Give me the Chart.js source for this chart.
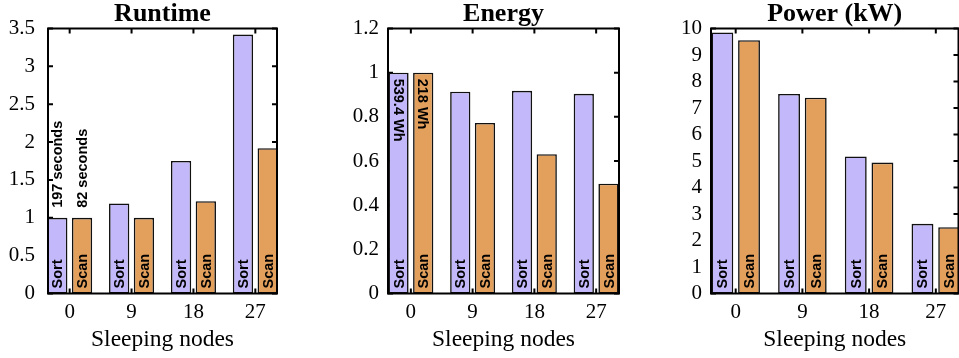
<!DOCTYPE html>
<html>
<head>
<meta charset="utf-8">
<script src="https://cdn.jsdelivr.net/npm/chart.js@4.4.1/dist/chart.umd.min.js"></script>
<style>
html, body { margin: 0; padding: 0; background: #fff; overflow: hidden; width: 959px; height: 358px; }
canvas { position: absolute; top: 0; }
</style>
</head>
<body>
<canvas id="runtimeChart" width="300" height="358" style="left:0px"></canvas>
<canvas id="energyChart" width="340" height="358" style="left:300px"></canvas>
<canvas id="powerChart" width="330" height="358" style="left:640px"></canvas>
<script>
// data
const nodeLabels = ['0', '9', '18', '27'];
const seriesNames = ['Sort', 'Scan'];

const runtimeSort = [1, 1.19, 1.75, 3.42];
const runtimeScan = [1, 1.0, 1.22, 1.92];
const runtimeNotes = ['197 seconds', '82 seconds'];

const energySort = [1, 0.914, 0.918, 0.904];
const energyScan = [1, 0.772, 0.631, 0.497];
const energyNotes = ['539.4 Wh', '218 Wh'];

const powerSort = [9.85, 7.53, 5.17, 2.63];
const powerScan = [9.56, 7.39, 4.94, 2.50];

const sortColor = '#c3b8f9';
const scanColor = '#e3a05d';

const serif = '"Liberation Serif", "Times New Roman", serif';
const sans = '"Liberation Sans", Arial, sans-serif';

// inward ticks behind the bars, border on top
const framePlugin = {
    id: 'frame',
    beforeDatasetsDraw(chart) {
        const { ctx, chartArea: a } = chart;
        const xs = chart.scales.x, ys = chart.scales.y;
        const len = 5;
        ctx.save();
        ctx.strokeStyle = '#000';
        ctx.lineWidth = 2;
        ctx.beginPath();
        ys.ticks.forEach(t => {
            const py = ys.getPixelForValue(t.value);
            ctx.moveTo(a.left, py); ctx.lineTo(a.left + len, py);
            ctx.moveTo(a.right, py); ctx.lineTo(a.right - len, py);
        });
        xs.ticks.forEach(t => {
            const px = xs.getPixelForValue(t.value);
            ctx.moveTo(px, a.top); ctx.lineTo(px, a.top + len);
            ctx.moveTo(px, a.bottom); ctx.lineTo(px, a.bottom - len);
        });
        ctx.stroke();
        ctx.restore();
    },
    afterDatasetsDraw(chart) {
        const { ctx, chartArea: a } = chart;
        ctx.save();
        ctx.strokeStyle = '#000';
        ctx.lineWidth = 2;
        ctx.strokeRect(a.left, a.top, a.right - a.left, a.bottom - a.top);
        ctx.restore();
    }
};

// rotated series names inside bars + first-group notes
const barTextPlugin = {
    id: 'barText',
    afterDatasetsDraw(chart, args, opts) {
        const ctx = chart.ctx;
        ctx.save();
        ctx.font = 'bold 14.5px ' + sans;
        ctx.fillStyle = '#000';
        ctx.textBaseline = 'middle';
        ctx.textAlign = 'left';
        chart.data.datasets.forEach((ds, di) => {
            const meta = chart.getDatasetMeta(di);
            meta.data.forEach(bar => {
                ctx.save();
                ctx.translate(bar.x, bar.base - 5);
                ctx.rotate(-Math.PI / 2);
                ctx.fillText(ds.label, 0, 1);
                ctx.restore();
            });
            const note = opts.notes ? opts.notes[di] : null;
            if (note) {
                const bar = meta.data[0];
                ctx.save();
                if (opts.dir === 'down') {
                    ctx.translate(bar.x, bar.y + 6);
                    ctx.rotate(Math.PI / 2);
                } else {
                    ctx.translate(bar.x, bar.y - 10);
                    ctx.rotate(-Math.PI / 2);
                }
                ctx.fillText(note, 0, 1);
                ctx.restore();
            }
        });
        ctx.restore();
    }
};

function makePanel(id, cfg) {
    const toPoints = arr => arr.map((v, i) => ({ x: i, y: v }));
    return new Chart(document.getElementById(id), {
        type: 'bar',
        data: {
            datasets: [
                { label: seriesNames[0], data: toPoints(cfg.sort), backgroundColor: sortColor },
                { label: seriesNames[1], data: toPoints(cfg.scan), backgroundColor: scanColor }
            ]
        },
        options: {
            responsive: false,
            animation: false,
            devicePixelRatio: 1,
            layout: { padding: { left: 0, right: cfg.padRight, top: 0, bottom: 0 } },
            datasets: {
                bar: {
                    borderColor: '#111',
                    borderWidth: 1.6,
                    borderSkipped: false,
                    categoryPercentage: 0.8,
                    barPercentage: 0.82
                }
            },
            plugins: {
                legend: { display: false },
                tooltip: { enabled: false },
                title: {
                    display: true,
                    text: cfg.title,
                    fullSize: false,
                    color: '#000',
                    font: { family: serif, size: 26, weight: 'bold', lineHeight: 28.5 / 26 },
                    padding: { top: 0, bottom: 0 }
                },
                barText: { notes: cfg.notes, dir: cfg.dir }
            },
            scales: {
                x: {
                    type: 'linear',
                    min: cfg.xmin,
                    max: cfg.xmax,
                    offset: false,
                    grid: { display: false, drawTicks: false, offset: false },
                    border: { display: false },
                    afterBuildTicks: s => { s.ticks = nodeLabels.map((l, i) => ({ value: i })); },
                    afterFit: s => { s.height = 64.5; },
                    ticks: {
                        color: '#000',
                        padding: 6,
                        maxRotation: 0,
                        autoSkip: false,
                        font: { family: serif, size: 21 },
                        callback: v => nodeLabels[v]
                    },
                    title: {
                        display: true,
                        text: 'Sleeping nodes',
                        color: '#000',
                        font: { family: serif, size: 23.5 },
                        padding: { top: 0, bottom: 4 }
                    }
                },
                y: {
                    min: 0,
                    max: cfg.ymax,
                    grid: { display: false, drawTicks: false },
                    border: { display: false },
                    afterFit: s => { s.width = cfg.plotLeft; },
                    ticks: {
                        stepSize: cfg.step,
                        autoSkip: false,
                        color: '#000',
                        padding: cfg.tickPad,
                        font: { family: serif, size: 21 },
                        callback: v => String(Math.round(v * 100) / 100)
                    }
                }
            }
        },
        plugins: [framePlugin, barTextPlugin]
    });
}

makePanel('runtimeChart', {
    title: 'Runtime', sort: runtimeSort, scan: runtimeScan,
    notes: runtimeNotes, dir: 'up',
    ymax: 3.5, step: 0.5, xmin: -0.35, xmax: 3.35,
    plotLeft: 48, padRight: 23, tickPad: 13
});

makePanel('energyChart', {
    title: 'Energy', sort: energySort, scan: energyScan,
    notes: energyNotes, dir: 'down',
    ymax: 1.2, step: 0.2, xmin: -0.37, xmax: 3.37,
    plotLeft: 88, padRight: 21, tickPad: 9
});

makePanel('powerChart', {
    title: 'Power (kW)', sort: powerSort, scan: powerScan,
    notes: null, dir: 'up',
    ymax: 10, step: 1, xmin: -0.37, xmax: 3.34,
    plotLeft: 71, padRight: 11.5, tickPad: 9
});
</script>
</body>
</html>
